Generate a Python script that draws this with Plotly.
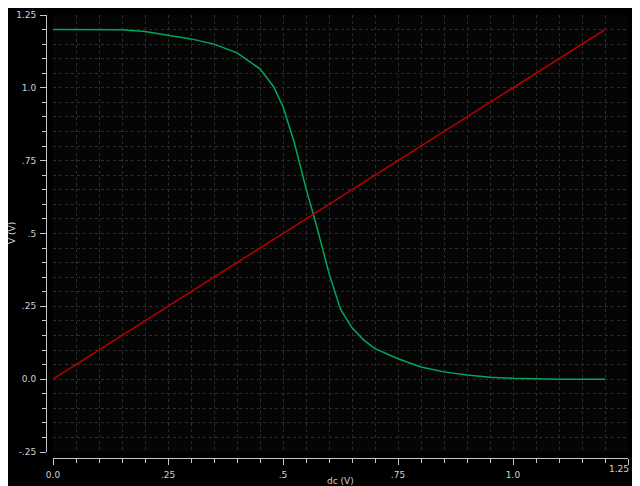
import plotly.graph_objects as go

# Data
vin = [0, 0.05, 0.1, 0.15, 0.2, 0.25, 0.3, 0.35, 0.4, 0.45, 0.48, 0.5, 0.525, 0.55, 0.575,
       0.6, 0.625, 0.65, 0.675, 0.7, 0.75, 0.8, 0.85, 0.9, 0.95, 1.0, 1.05, 1.1, 1.15, 1.2]
vout = [1.2, 1.2, 1.2, 1.199, 1.193, 1.181, 1.168, 1.15, 1.12, 1.065, 1.003, 0.935, 0.81, 0.655, 0.514,
        0.363, 0.24, 0.176, 0.135, 0.105, 0.07, 0.042, 0.025, 0.014, 0.007, 0.003, 0.001, 0.0, 0.0, 0.0]
vin_line = [0.0, 1.2]
x_tickvals = [0.0, 0.25, 0.5, 0.75, 1.0, 1.25]
x_ticktext = ["0.0", ".25", ".5", ".75", "1.0", "1.25"]
y_tickvals = [-0.25, 0.0, 0.25, 0.5, 0.75, 1.0, 1.25]
y_ticktext = ["-.25", "0.0", ".25", ".5", ".75", "1.0", "1.25"]

W, H = 640, 486
ML, MR, MT, MB = 38, 20, 7, 36
PW, PH = W - ML - MR, H - MT - MB

def px_x(p):
    return (p - ML) / PW

def px_y(p):
    return (H - MB - p) / PH

fig = go.Figure()
fig.add_trace(go.Scatter(x=vin, y=vout, mode="lines",
                         line=dict(color="#00a85a", width=1.5), showlegend=False))
fig.add_trace(go.Scatter(x=vin_line, y=vin_line, mode="lines",
                         line=dict(color="#b80000", width=1.5), showlegend=False))

tickfont = dict(family="DejaVu Sans", size=9, color="#d0d0d0")
# last x tick label is drawn as an annotation so it stays inside the visible window
x_ticktext_axis = x_ticktext[:-1] + [""]

fig.update_layout(
    width=W, height=H,
    margin=dict(l=ML, r=MR, t=MT, b=MB, pad=0, autoexpand=False),
    paper_bgcolor="#000000", plot_bgcolor="#050505",
    xaxis=dict(range=[0, 1.25], domain=[px_x(45), 1], anchor="free", position=0,
               showline=True, linecolor="#c8c8c8", linewidth=1,
               tickmode="array", tickvals=x_tickvals, ticktext=x_ticktext_axis,
               ticks="outside", ticklen=6, tickcolor="#c8c8c8", tickwidth=1,
               tickfont=tickfont, ticklabelstandoff=2, automargin=False,
               showgrid=True, gridcolor="#2c2c2c", griddash="dot", gridwidth=1,
               zeroline=False,
               minor=dict(dtick=0.05, tick0=0, ticks="outside", ticklen=4, tickcolor="#c8c8c8",
                          showgrid=True, gridcolor="#2c2c2c", griddash="dot", gridwidth=1)),
    yaxis=dict(range=[-0.25, 1.25], domain=[px_y(444), 1], anchor="free", position=0,
               showline=True, linecolor="#c8c8c8", linewidth=1,
               tickmode="array", tickvals=y_tickvals, ticktext=y_ticktext,
               ticks="outside", ticklen=6, tickcolor="#c8c8c8", tickwidth=1,
               tickfont=tickfont, ticklabelstandoff=2, automargin=False,
               showgrid=True, gridcolor="#2c2c2c", griddash="dot", gridwidth=1,
               zeroline=False,
               minor=dict(dtick=0.05, tick0=0, ticks="outside", ticklen=4, tickcolor="#c8c8c8",
                          showgrid=True, gridcolor="#2c2c2c", griddash="dot", gridwidth=1)),
    annotations=[
        dict(text="V (V)", xref="paper", yref="paper", x=px_x(4), y=px_y(225), textangle=-90,
             showarrow=False, font=dict(family="DejaVu Sans", size=9, color="#d0d0d0"),
             xanchor="center", yanchor="middle"),
        dict(text="dc (V)", xref="paper", yref="paper", x=px_x(332), y=px_y(466),
             showarrow=False, font=dict(family="DejaVu Sans", size=9, color="#d0d0d0"),
             xanchor="center", yanchor="top"),
        dict(text=x_ticktext[-1], xref="x", yref="paper", x=x_tickvals[-1], y=px_y(461),
             xshift=3, showarrow=False, font=tickfont,
             xanchor="right", yanchor="middle"),
    ],
)

fig.write_html("out.html", post_script="document.body.style.overflow='hidden';")
